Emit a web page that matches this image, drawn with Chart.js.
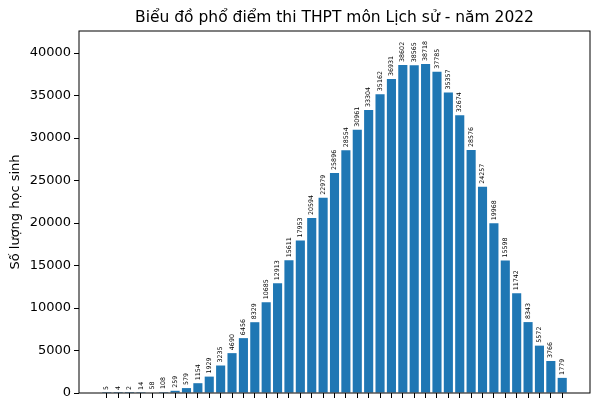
<!DOCTYPE html>
<html>
<head>
<meta charset="utf-8">
<script src="https://cdn.jsdelivr.net/npm/chart.js@4"></script>
<style>
  html, body { margin: 0; padding: 0; background: #fff; }
  #wrap { width: 600px; height: 400px; }
</style>
</head>
<body>
<div id="wrap"><canvas id="scoreChart"></canvas></div>
<script>
// Điểm (0 - 10, bước 0.25)
const scores = [0, 0.25, 0.5, 0.75, 1, 1.25, 1.5, 1.75, 2, 2.25, 2.5, 2.75, 3, 3.25, 3.5, 3.75,
  4, 4.25, 4.5, 4.75, 5, 5.25, 5.5, 5.75, 6, 6.25, 6.5, 6.75, 7, 7.25, 7.5, 7.75,
  8, 8.25, 8.5, 8.75, 9, 9.25, 9.5, 9.75, 10];

// Số lượng học sinh theo từng mức điểm
const counts = [5, 4, 2, 14, 58, 108, 259, 579, 1154, 1929, 3235, 4690, 6456, 8329, 10685, 12913,
  15611, 17953, 20594, 22979, 25896, 28554, 30961, 33304, 35162, 36931, 38602, 38565, 38718, 37785, 35357, 32674,
  28576, 24257, 19968, 15598, 11742, 8343, 5572, 3766, 1779];

const yTicks = [0, 5000, 10000, 15000, 20000, 25000, 30000, 35000, 40000];

const chartTitle = 'Biểu đồ phổ điểm thi THPT môn Lịch sử - năm 2022';

const FONT = "'DejaVu Sans', sans-serif";

// khung bao quanh vùng vẽ + tiêu đề căn giữa vùng vẽ
const framePlugin = {
  id: 'frame',
  afterDraw(chart) {
    const { ctx, chartArea: a } = chart;
    ctx.save();
    ctx.strokeStyle = '#000';
    ctx.lineWidth = 1;
    ctx.strokeRect(a.left, a.top, a.right - a.left, a.bottom - a.top);
    ctx.font = '15.5px ' + FONT;
    ctx.fillStyle = '#000';
    ctx.textAlign = 'center';
    ctx.textBaseline = 'alphabetic';
    ctx.fillText(chartTitle, (a.left + a.right) / 2, a.top - 9);
    ctx.restore();
  }
};

// nhãn giá trị xoay dọc trên mỗi cột
const barLabels = {
  id: 'barLabels',
  afterDatasetsDraw(chart) {
    const { ctx } = chart;
    const meta = chart.getDatasetMeta(0);
    ctx.save();
    ctx.font = '6.3px ' + FONT;
    ctx.fillStyle = '#000';
    ctx.textAlign = 'left';
    ctx.textBaseline = 'middle';
    meta.data.forEach((bar, i) => {
      ctx.save();
      ctx.translate(bar.x, bar.y - 3);
      ctx.rotate(-Math.PI / 2);
      ctx.fillText(String(counts[i]), 0, 0);
      ctx.restore();
    });
    ctx.restore();
  }
};

new Chart(document.getElementById('scoreChart'), {
  type: 'bar',
  data: {
    datasets: [{
      data: scores.map((s, i) => ({ x: s, y: counts[i] })),
      backgroundColor: '#1f77b4',
      borderWidth: 0,
      categoryPercentage: 1,
      barPercentage: 0.8
    }]
  },
  options: {
    responsive: true,
    maintainAspectRatio: false,
    animation: false,
    layout: { padding: { left: 0, right: 10, top: 31, bottom: 0 } },
    plugins: {
      legend: { display: false },
      tooltip: { enabled: false },
      title: { display: false }
    },
    scales: {
      x: {
        type: 'linear',
        offset: false,
        min: -0.61,
        max: 10.61,
        afterBuildTicks(scale) {
          scale.ticks = scores.map(v => ({ value: v }));
        },
        afterFit(scale) { scale.height = 7; },
        ticks: { display: false },
        grid: { drawOnChartArea: false, tickLength: 5, color: '#000', offset: false },
        border: { display: false }
      },
      y: {
        min: 0,
        max: 42590,
        afterBuildTicks(scale) {
          scale.ticks = yTicks.map(v => ({ value: v }));
        },
        afterFit(scale) {
          scale.width = 79;
          scale.paddingTop = 0;
          scale.paddingBottom = 0;
        },
        ticks: {
          color: '#000',
          font: { family: FONT, size: 13 },
          padding: 3,
          callback: v => String(v)
        },
        grid: { drawOnChartArea: false, tickLength: 5, color: '#000' },
        border: { display: false },
        title: {
          display: true,
          text: 'Số lượng học sinh',
          color: '#000',
          font: { family: FONT, size: 13 },
          padding: { top: 8, bottom: 0 }
        }
      }
    }
  },
  plugins: [framePlugin, barLabels]
});
</script>
</body>
</html>
